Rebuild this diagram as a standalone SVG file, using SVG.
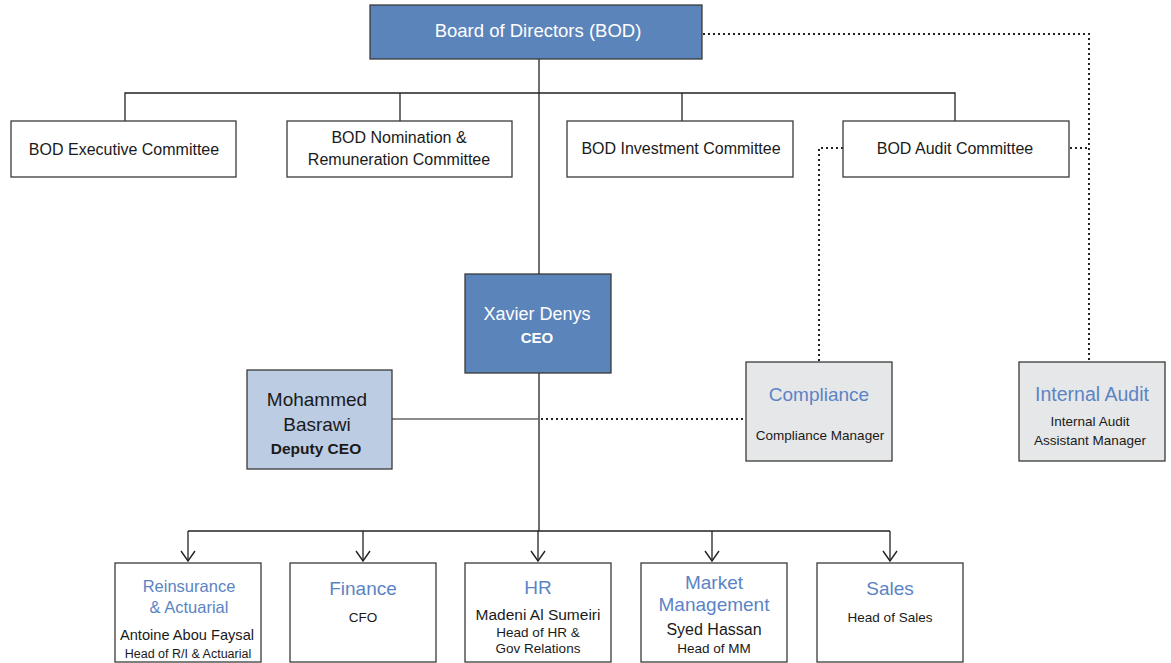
<svg xmlns="http://www.w3.org/2000/svg" width="1171" height="663" viewBox="0 0 1171 663">
<defs>
<style>
text{font-family:"Liberation Sans",Arial,sans-serif;text-anchor:middle}
.box{stroke:#3a3a3a;stroke-width:1.3}
.w{fill:#fff}
.dk{fill:#5b84bb}
.lt{fill:#bccce3}
.gr{fill:#e6e7e8}
.ln{fill:none;stroke:#222;stroke-width:1.3}
.dot{fill:none;stroke:#222;stroke-width:2;stroke-dasharray:2 3}
.t16{font-size:16px;fill:#1a1a1a}
.tw{fill:#fff}
.blue{fill:#5b84c4;font-size:19px}
.sub{font-size:13.5px;fill:#1a1a1a}
.name{font-size:16px;fill:#1a1a1a}
</style>
<marker id="arr" viewBox="0 0 12 16" refX="11" refY="8" markerWidth="12" markerHeight="16" markerUnits="userSpaceOnUse" orient="auto">
<path d="M1,1 L11,8 L1,15" fill="none" stroke="#222" stroke-width="1.4"/>
</marker>
</defs>
<rect width="1171" height="663" fill="#fff"/>
<g id="connectors">
<line class="ln" x1="539" y1="59" x2="539" y2="274"/>
<line class="ln" x1="539" y1="373" x2="539" y2="531"/>
<polyline class="ln" points="125,121 125,93 955,93 955,121"/>
<line class="ln" x1="400" y1="93" x2="400" y2="121"/>
<line class="ln" x1="682" y1="93" x2="682" y2="121"/>
<line class="ln" x1="392" y1="419" x2="539" y2="419" style="stroke:#666"/>
<polyline class="dot" points="703,34 1089,34 1089,362"/>
<line class="dot" x1="1070" y1="148" x2="1089" y2="148"/>
<polyline class="dot" points="843,148 819,148 819,362"/>
<line class="dot" x1="541" y1="419" x2="746" y2="419"/>
<line class="ln" x1="188" y1="531" x2="890" y2="531"/>
<line class="ln" x1="188" y1="531" x2="188" y2="561" marker-end="url(#arr)"/>
<line class="ln" x1="363" y1="531" x2="363" y2="561" marker-end="url(#arr)"/>
<line class="ln" x1="538" y1="531" x2="538" y2="561" marker-end="url(#arr)"/>
<line class="ln" x1="712" y1="531" x2="712" y2="561" marker-end="url(#arr)"/>
<line class="ln" x1="890" y1="531" x2="890" y2="561" marker-end="url(#arr)"/>
</g>
<g id="bod">
<rect class="box dk" x="370" y="5" width="332" height="54"/>
<text class="tw" x="538" y="37" style="font-size:18.5px">Board of Directors (BOD)</text>
</g>
<g id="exec">
<rect class="box w" x="11" y="121" width="225" height="56"/>
<text class="t16" x="124" y="155">BOD Executive Committee</text>
</g>
<g id="nomination">
<rect class="box w" x="287" y="121" width="225" height="56"/>
<text class="t16" x="399" y="143">BOD Nomination &amp;</text>
<text class="t16" x="399" y="165">Remuneration Committee</text>
</g>
<g id="investment">
<rect class="box w" x="567" y="121" width="226" height="56"/>
<text class="t16" x="681" y="154">BOD Investment Committee</text>
</g>
<g id="audit">
<rect class="box w" x="843" y="121" width="226" height="56"/>
<text class="t16" x="955" y="154">BOD Audit Committee</text>
</g>
<g id="ceo">
<rect class="box dk" x="465" y="274" width="146" height="99"/>
<text class="tw" x="537" y="320" style="font-size:18px">Xavier Denys</text>
<text class="tw" x="537" y="343" style="font-size:15px;font-weight:bold">CEO</text>
</g>
<g id="deputy">
<rect class="box lt" x="247" y="370" width="145" height="99"/>
<text class="name" x="317" y="406" style="font-size:19px">Mohammed</text>
<text class="name" x="317" y="431" style="font-size:19px">Basrawi</text>
<text class="name" x="316" y="454" style="font-size:15.5px;font-weight:bold">Deputy CEO</text>
</g>
<g id="compliance">
<rect class="box gr" x="746" y="362" width="146" height="99"/>
<text class="blue" x="819" y="401">Compliance</text>
<text class="sub" x="820" y="440">Compliance Manager</text>
</g>
<g id="internal-audit">
<rect class="box gr" x="1019" y="362" width="146" height="99"/>
<text class="blue" x="1092" y="401" style="font-size:19.5px">Internal Audit</text>
<text class="sub" x="1090" y="426">Internal Audit</text>
<text class="sub" x="1090" y="445">Assistant Manager</text>
</g>
<g id="reinsurance">
<rect class="box w" x="115" y="563" width="146" height="99"/>
<text class="blue" x="189" y="592" style="font-size:16.5px">Reinsurance</text>
<text class="blue" x="189" y="613" style="font-size:16.5px">&amp; Actuarial</text>
<text class="name" x="187" y="640" style="font-size:15px" textLength="134" lengthAdjust="spacingAndGlyphs">Antoine Abou Faysal</text>
<text class="sub" x="188" y="658" style="font-size:12.5px">Head of R/I &amp; Actuarial</text>
</g>
<g id="finance">
<rect class="box w" x="290" y="563" width="146" height="99"/>
<text class="blue" x="363" y="595">Finance</text>
<text class="sub" x="363" y="622">CFO</text>
</g>
<g id="hr">
<rect class="box w" x="465" y="563" width="146" height="99"/>
<text class="blue" x="538" y="594">HR</text>
<text class="name" x="538" y="620" style="font-size:15.5px">Madeni Al Sumeiri</text>
<text class="sub" x="538" y="637">Head of HR &amp;</text>
<text class="sub" x="538" y="653">Gov Relations</text>
</g>
<g id="market">
<rect class="box w" x="641" y="563" width="146" height="99"/>
<text class="blue" x="714" y="589">Market</text>
<text class="blue" x="714" y="611">Management</text>
<text class="name" x="714" y="635">Syed Hassan</text>
<text class="sub" x="714" y="653">Head of MM</text>
</g>
<g id="sales">
<rect class="box w" x="817" y="563" width="146" height="99"/>
<text class="blue" x="890" y="595">Sales</text>
<text class="sub" x="890" y="622">Head of Sales</text>
</g>
</svg>
